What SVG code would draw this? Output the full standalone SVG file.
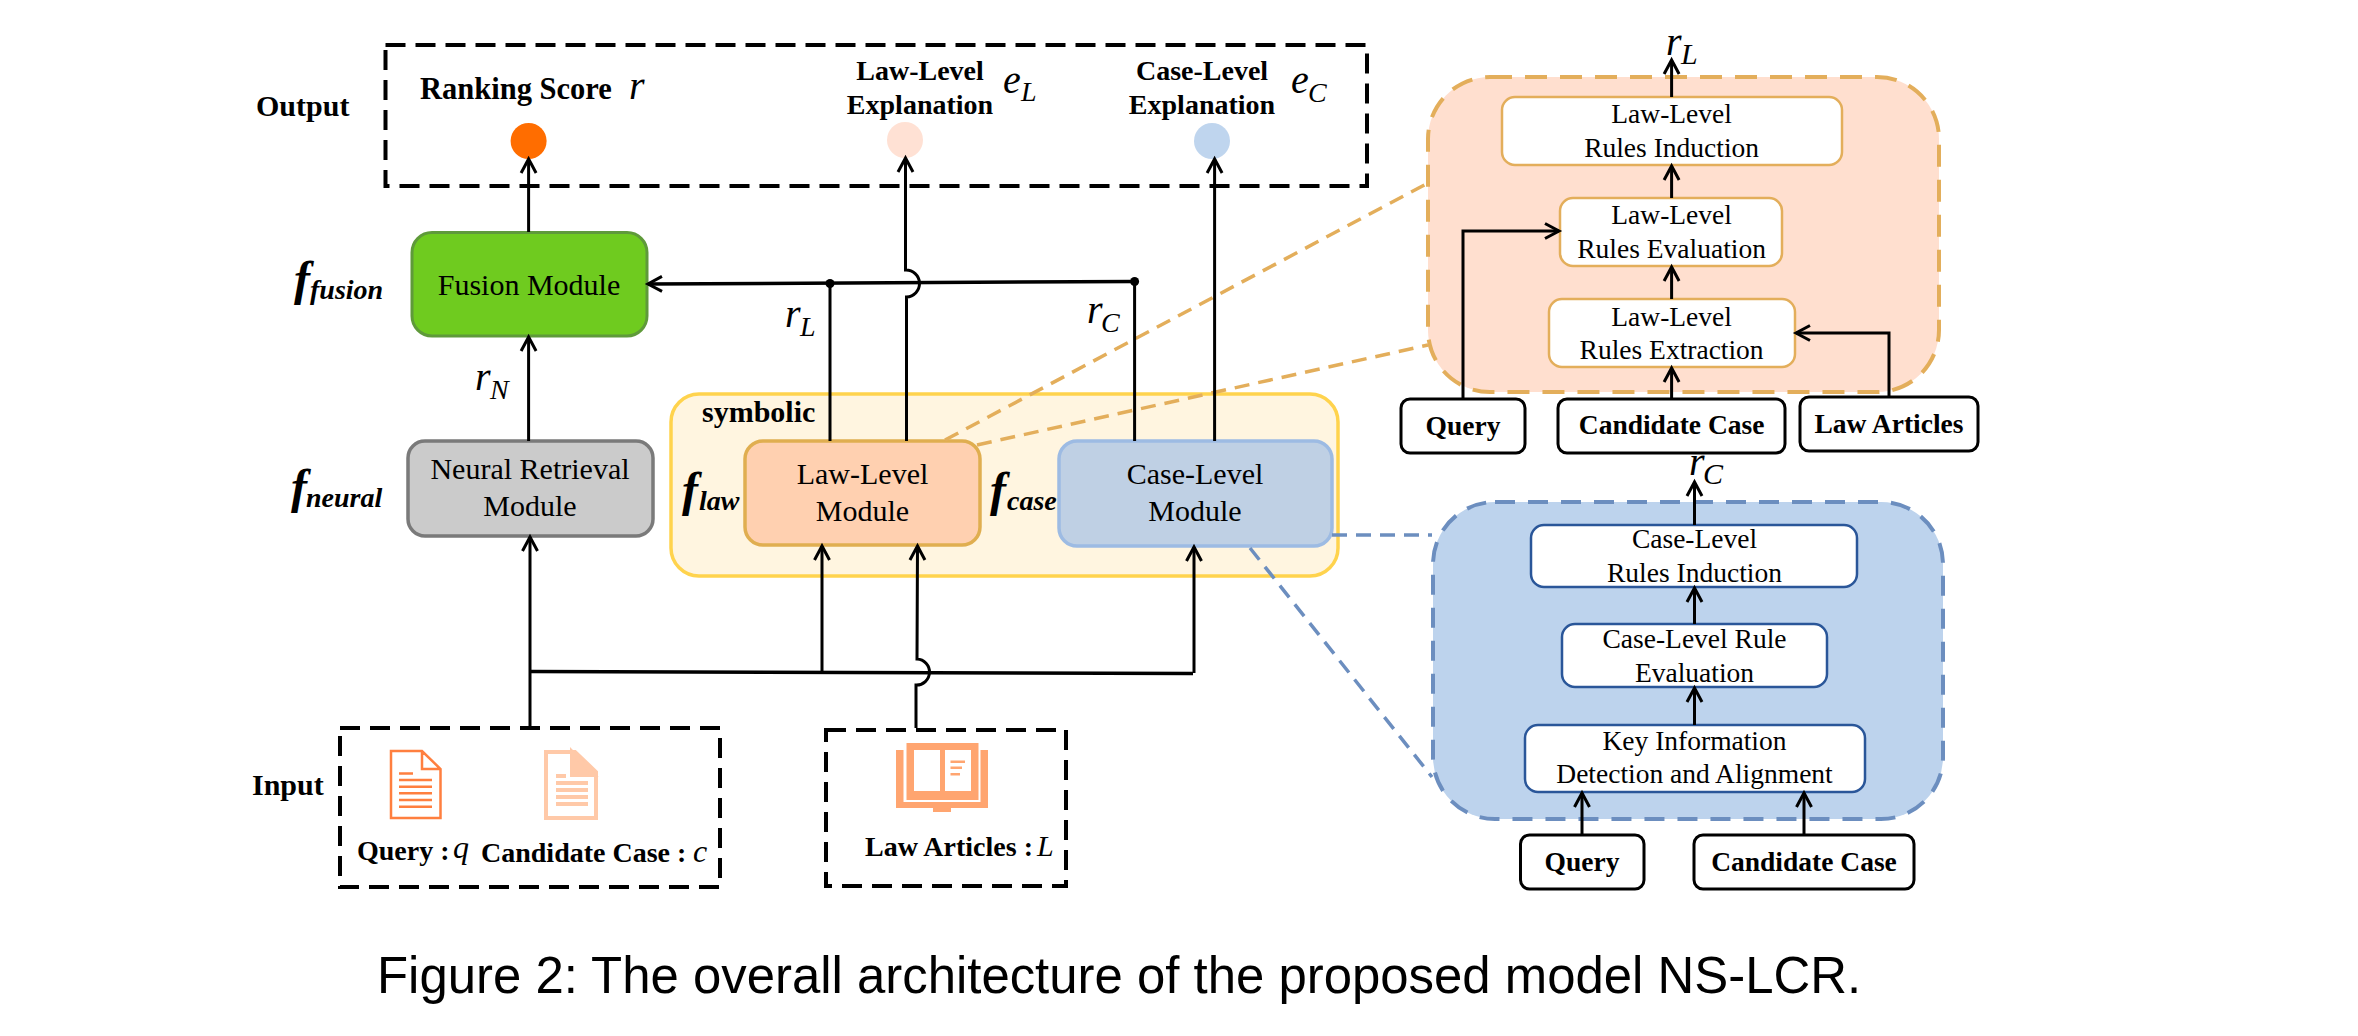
<svg xmlns="http://www.w3.org/2000/svg" width="2358" height="1036" viewBox="0 0 2358 1036">
<style>
text{font-family:"Liberation Serif","Times New Roman",serif;fill:#000}
.b{font-weight:bold;font-size:30px}
.bs{font-weight:bold;font-size:28px}
.c{text-anchor:middle}
.m{font-size:30px}
.s{font-size:27.5px}
.i{font-style:italic;font-size:40px}
.is{font-style:italic;font-size:28px}
.f{font-style:italic;font-weight:bold;font-size:48px}
.fs{font-style:italic;font-weight:bold;font-size:28px}
.cap{font-family:"Liberation Sans",Arial,sans-serif;font-size:50.9px}
.dash{fill:none;stroke:#000;stroke-width:4;stroke-dasharray:20 10}
.w{fill:#fff;stroke-width:2.5}
.wo{stroke:#E3AE5B}
.wb{stroke:#2A5699}
.inp{fill:#fff;stroke:#000;stroke-width:3}
.ln{fill:none;stroke:#000;stroke-width:3}
.ar{fill:none;stroke:#000;stroke-width:3;marker-end:url(#a)}
.ar2{fill:none;stroke:#000;stroke-width:3.5;marker-end:url(#a)}
.do{fill:none;stroke:#E3AE5B;stroke-width:3.5;stroke-dasharray:15 9}
.db{fill:none;stroke:#6C8EBF;stroke-width:3.5;stroke-dasharray:15 9}
</style>
<defs>
<marker id="a" markerUnits="userSpaceOnUse" markerWidth="20" markerHeight="22" refX="16" refY="11" orient="auto">
<path d="M2,3.5 L16,11 L2,18.5" fill="none" stroke="#000" stroke-width="3"/>
</marker>
</defs>
<rect width="2358" height="1036" fill="#fff"/>

<g id="output">
<rect class="dash" x="385.5" y="45" width="981.5" height="141"/>
<text class="b" x="256" y="116">Output</text>
<text class="b" x="420" y="99" style="font-size:30.5px">Ranking Score</text>
<text class="i" x="629" y="99">r</text>
<circle cx="528.6" cy="141" r="18" fill="#FF6D00"/>
<text class="b c" x="920" y="80" style="font-size:28px">Law-Level</text>
<text class="b c" x="920" y="114" style="font-size:28px">Explanation</text>
<text class="i" x="1003" y="93">e</text><text class="is" x="1021" y="101">L</text>
<circle cx="905" cy="140" r="18" fill="#FFE1D4"/>
<text class="b c" x="1202" y="80" style="font-size:28px">Case-Level</text>
<text class="b c" x="1202" y="114" style="font-size:28px">Explanation</text>
<text class="i" x="1291" y="93">e</text><text class="is" x="1308" y="102">C</text>
<circle cx="1212" cy="141" r="18" fill="#BFD5EE"/>
</g>

<g id="fusion">
<rect x="412" y="232.5" width="235" height="103.5" rx="20" fill="#6FCB1F" stroke="#5F9A3A" stroke-width="3"/>
<text class="m c" x="529" y="295">Fusion Module</text>
<text class="f" x="294" y="295">f</text><text class="fs" x="310" y="299">fusion</text>
</g>

<g id="symbolic">
<rect x="671" y="394" width="667" height="182" rx="28" fill="#FFF5E0" stroke="#FFD34D" stroke-width="3.5"/>
<text class="b" x="702" y="422">symbolic</text>
</g>

<g id="neural">
<rect x="408" y="441" width="245" height="95" rx="17" fill="#CBCBCB" stroke="#7A7A7A" stroke-width="3.5"/>
<text class="m c" x="530" y="479">Neural Retrieval</text>
<text class="m c" x="530" y="516">Module</text>
<text class="f" x="291" y="503">f</text><text class="fs" x="306" y="507">neural</text>
</g>

<g id="law-module">
<rect x="745" y="441" width="235" height="104" rx="18" fill="#FFD0B0" stroke="#E0AE50" stroke-width="3.5"/>
<text class="m c" x="862.5" y="484">Law-Level</text>
<text class="m c" x="862.5" y="521">Module</text>
<text class="f" x="682" y="506">f</text><text class="fs" x="699" y="510">law</text>
</g>

<g id="case-module">
<rect x="1059" y="441" width="273" height="105" rx="18" fill="#BFD0E4" stroke="#9DBBE3" stroke-width="3.5"/>
<text class="m c" x="1195" y="484">Case-Level</text>
<text class="m c" x="1195" y="521">Module</text>
<text class="f" x="990" y="506">f</text><text class="fs" x="1007" y="510">case</text>
</g>

<g id="input">
<rect class="dash" x="340" y="728" width="380" height="159"/>
<text class="b" x="252" y="795">Input</text>
<g fill="none" stroke="#FF7F3F" stroke-width="2.5">
<path d="M391,751 H422 L440.5,769 V818 H391 Z M422,751 V769 H440.5"/>
<path d="M399,773.5 H413 M399,780 H432 M399,786.7 H432 M399,793.3 H432 M399,800 H432 M399,806.7 H432"/>
</g>
<g fill="none" stroke="#FFC9A8" stroke-width="4">
<path d="M546,752 H575 L596,772 V818 H546 Z"/>
<path d="M572,752 L594,775 H572 Z" fill="#FFC9A8"/>
<path d="M556,776 H566 M556,783 H588 M556,790 H588 M556,797 H588 M556,804 H588"/>
</g>
<text class="bs" x="357" y="860">Query :</text>
<text class="i" x="453" y="858" style="font-size:32px">q</text>
<text class="bs" x="481" y="862">Candidate Case :</text>
<text class="i" x="693" y="862" style="font-size:32px">c</text>
</g>

<g id="law-articles">
<rect class="dash" x="826" y="730" width="240" height="156"/>
<path d="M896,750 H988 V808 H951 V812 H933 V808 H896 Z" fill="#FFA570"/>
<rect x="903.5" y="750" width="77" height="52" fill="#fff"/>
<rect x="906.5" y="743" width="72" height="57" fill="#FFA570"/>
<rect x="914" y="750" width="26" height="41" fill="#fff"/>
<rect x="945" y="750" width="26" height="41" fill="#fff"/>
<path d="M950.5,761.7 H965 M950.5,767.7 H962 M950.5,774.3 H960" stroke="#FFA570" stroke-width="2.5" fill="none"/>
<text class="bs" x="865" y="856">Law Articles :</text>
<text class="i" x="1037" y="856" style="font-size:30px">L</text>
</g>

<g id="law-panel">
<rect x="1428" y="77" width="511" height="315" rx="62" fill="#FFDFCF" stroke="#E3AE5B" stroke-width="4" stroke-dasharray="22 13"/>
<g id="law-induction">
<rect class="w wo" x="1502" y="97" width="340" height="68" rx="13"/>
<text class="s c" x="1671.6" y="123">Law-Level</text>
<text class="s c" x="1671.6" y="157">Rules Induction</text>
</g>
<g id="law-evaluation">
<rect class="w wo" x="1560" y="198" width="222" height="68" rx="13"/>
<text class="s c" x="1671.6" y="224">Law-Level</text>
<text class="s c" x="1671.6" y="258">Rules Evaluation</text>
</g>
<g id="law-extraction">
<rect class="w wo" x="1549" y="299" width="246" height="68" rx="13"/>
<text class="s c" x="1671.6" y="326">Law-Level</text>
<text class="s c" x="1671.6" y="359">Rules Extraction</text>
</g>
<g id="law-query">
<rect class="inp" x="1401" y="399" width="124" height="54" rx="9"/>
<text class="bs c" x="1463" y="435" style="font-size:27.5px">Query</text>
</g>
<g id="law-candidate">
<rect class="inp" x="1558" y="399" width="227" height="54" rx="9"/>
<text class="bs c" x="1671.6" y="434" style="font-size:27.5px">Candidate Case</text>
</g>
<g id="law-articles-input">
<rect class="inp" x="1800" y="397" width="178" height="54" rx="9"/>
<text class="bs c" x="1889" y="433" style="font-size:27.5px">Law Articles</text>
</g>
<text class="i" x="1666" y="55">r</text><text class="is" x="1681" y="64" style="font-size:30px">L</text>
</g>

<g id="case-panel">
<rect x="1433" y="502" width="510" height="317" rx="62" fill="#BDD3ED" stroke="#6C8EBF" stroke-width="4" stroke-dasharray="20 13"/>
<g id="case-induction">
<rect class="w wb" x="1531" y="525" width="326" height="62" rx="13"/>
<text class="s c" x="1694.5" y="548">Case-Level</text>
<text class="s c" x="1694.5" y="582">Rules Induction</text>
</g>
<g id="case-evaluation">
<rect class="w wb" x="1562" y="624" width="265" height="63" rx="13"/>
<text class="s c" x="1694.5" y="648">Case-Level Rule</text>
<text class="s c" x="1694.5" y="682">Evaluation</text>
</g>
<g id="case-key">
<rect class="w wb" x="1525" y="725" width="340" height="67" rx="13"/>
<text class="s c" x="1694.5" y="750">Key Information</text>
<text class="s c" x="1694.5" y="783">Detection and Alignment</text>
</g>
<g id="case-query">
<rect class="inp" x="1520.5" y="835" width="123.5" height="54" rx="9"/>
<text class="bs c" x="1582" y="871" style="font-size:27.5px">Query</text>
</g>
<g id="case-candidate">
<rect class="inp" x="1694" y="835" width="220" height="54" rx="9"/>
<text class="bs c" x="1804" y="871" style="font-size:27.5px">Candidate Case</text>
</g>
<text class="i" x="1689" y="475">r</text><text class="is" x="1703" y="484" style="font-size:30px">C</text>
</g>

<g id="connectors">
<path class="do" d="M945,440 L1428,183"/>
<path class="do" d="M977,445 L1428,345"/>
<path class="db" d="M1332,535 H1432"/>
<path class="db" d="M1250,548 L1432,777"/>
<path class="ar" d="M528.6,232 V159"/>
<path class="ar" d="M528.6,441 V337"/>
<path class="ar" d="M906.5,441 V297 A13.5,13.5 0 0 0 905.5,270 V158"/>
<path class="ar" d="M1214.6,441 V159"/>
<path class="ar2" d="M1134.6,281.5 L648,284"/>
<path class="ln" d="M830,283.5 V441 M1134.6,281.5 V441"/>
<circle cx="830" cy="283.5" r="4.5"/>
<circle cx="1134.6" cy="281.5" r="4.5"/>
<path class="ar" d="M530,728 V537"/>
<path class="ln" style="stroke-width:3.5" d="M530,671.5 L1193,673.5"/>
<path class="ar" d="M822,672 V546"/>
<path class="ar" d="M1194,673 V547"/>
<path class="ar" d="M916,728 V685 A13,13 0 0 0 917,659 L917.5,546"/>
<path class="ar" d="M1671.6,97 V60"/>
<path class="ar" d="M1671.6,198 V166"/>
<path class="ar" d="M1671.6,299 V267"/>
<path class="ar" d="M1671.6,399 V368"/>
<path class="ar" d="M1463,399 V231 H1559"/>
<path class="ar" d="M1889,397 V333 H1796"/>
<path class="ar" d="M1694.5,525 V482"/>
<path class="ar" d="M1694.5,624 V588"/>
<path class="ar" d="M1694.5,725 V688"/>
<path class="ar" d="M1582,835 V793"/>
<path class="ar" d="M1804,835 V793"/>
</g>

<g id="edge-labels">
<text class="i" x="785" y="327">r</text><text class="is" x="800" y="336">L</text>
<text class="i" x="1087" y="323">r</text><text class="is" x="1101" y="332">C</text>
<text class="i" x="475" y="390">r</text><text class="is" x="490" y="399">N</text>
</g>

<text class="cap" x="377" y="993">Figure 2: The overall architecture of the proposed model NS-LCR.</text>
</svg>
